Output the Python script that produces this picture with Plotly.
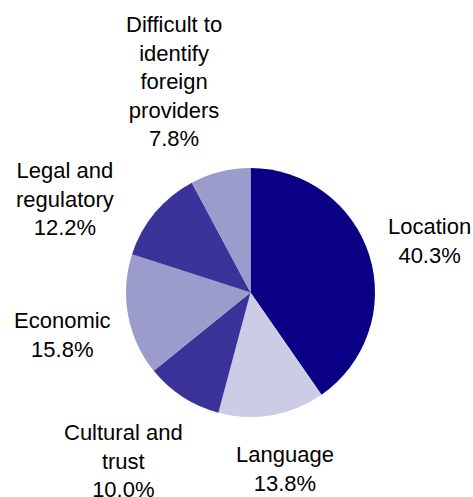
import plotly.graph_objects as go

labels = ["Location", "Language", "Cultural and<br>trust", "Economic", "Legal and<br>regulatory",
          "Difficult to<br>identify<br>foreign<br>providers"]
values = [40.3, 13.8, 10.0, 15.8, 12.2, 7.8]
colors = ["#0a0085", "#ccccE6", "#3b3399", "#9c9ccc", "#3b3399", "#9c9ccc"]

W, H = 473, 497
# label text-block centres (pixels)
label_pos = [(429, 241), (285, 469), (123, 461), (62, 335), (65, 199), (174, 82)]

cx, cy, r = 250.5, 292.5, 124.5

fig = go.Figure(go.Pie(
    labels=labels, values=values, sort=False, direction="clockwise", rotation=0,
    marker=dict(colors=colors, line=dict(width=0)),
    textinfo="none", hoverinfo="label+percent", showlegend=False,
    domain=dict(x=[(cx - r) / W, (cx + r) / W], y=[(H - cy - r) / H, (H - cy + r) / H]),
))

for lab, val, (px, py) in zip(labels, values, label_pos):
    fig.add_annotation(
        x=px / W, y=1 - py / H, xref="paper", yref="paper",
        text=f"{lab}<br>{val:.1f}%", showarrow=False,
        xanchor="center", yanchor="middle", align="center",
        font=dict(family="Liberation Sans, Arial, sans-serif", size=22, color="#000000"),
    )

fig.update_layout(
    width=W, height=H, margin=dict(l=0, r=0, t=0, b=0),
    paper_bgcolor="white", plot_bgcolor="white",
)
fig.write_html("out.html")
